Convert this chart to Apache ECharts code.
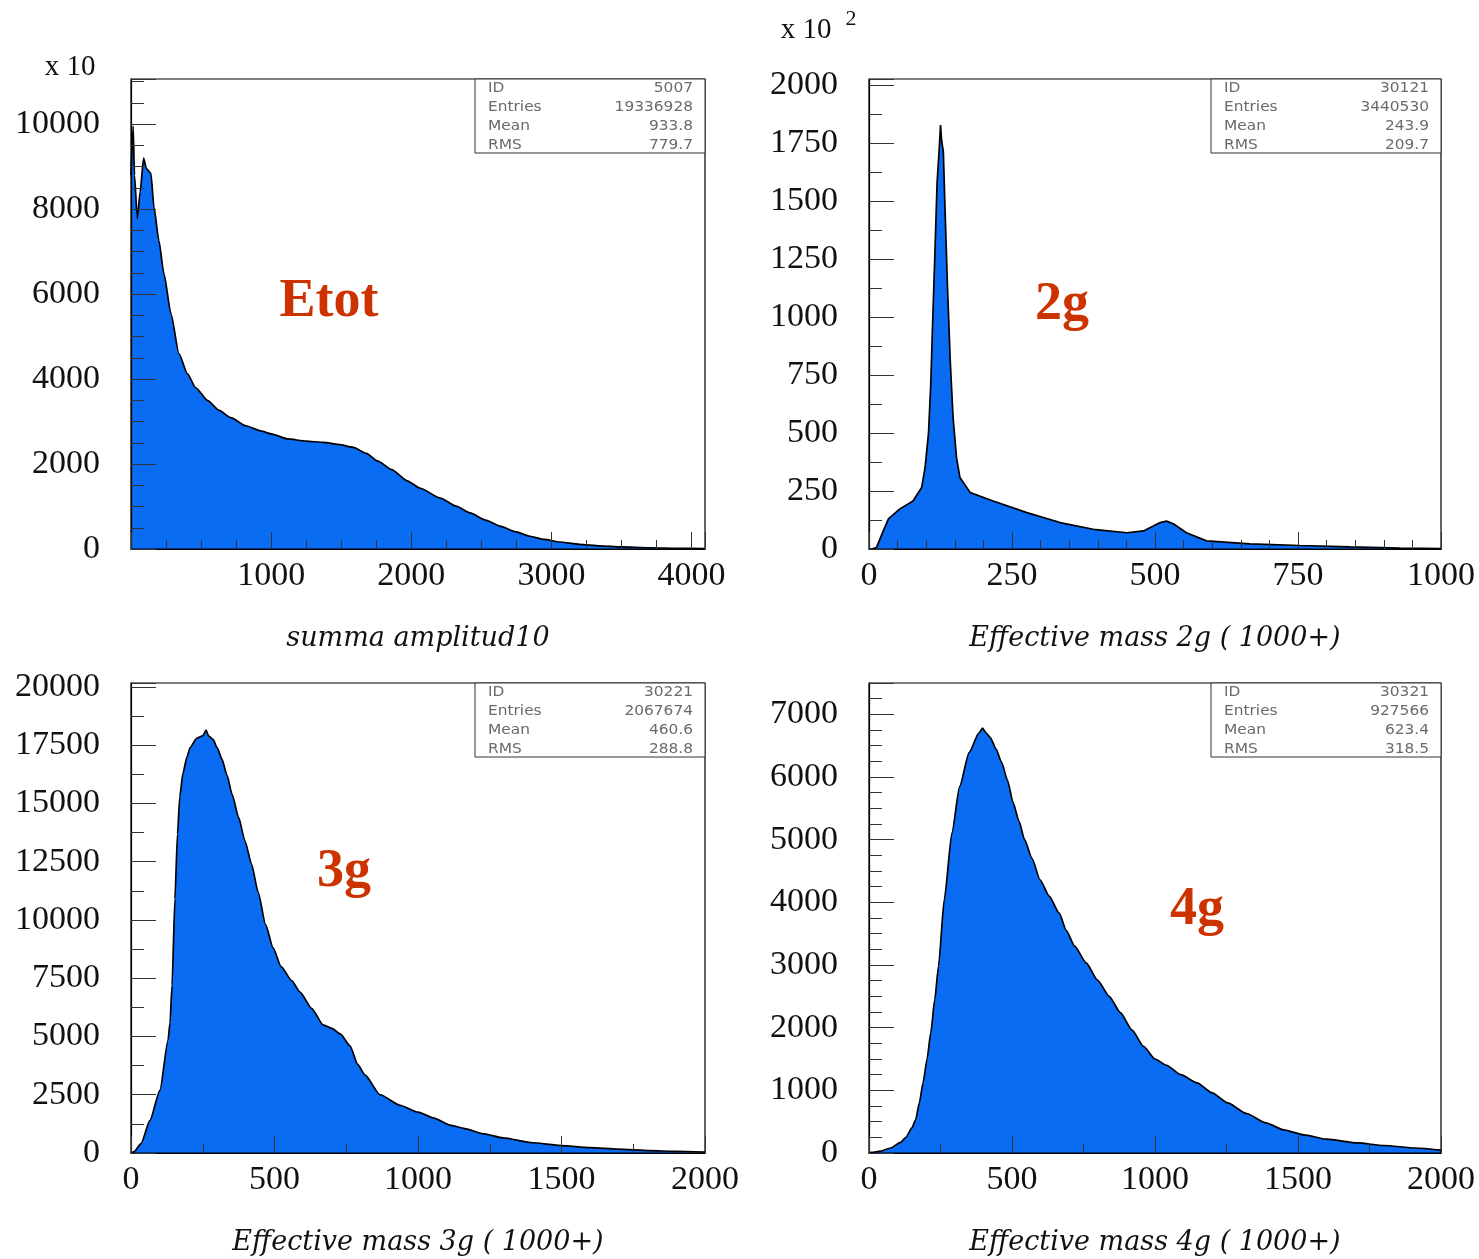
<!DOCTYPE html>
<html>
<head>
<meta charset="utf-8">
<script src="https://cdn.jsdelivr.net/npm/echarts@6/dist/echarts.min.js"></script>
<style>
html,body{margin:0;padding:0;background:#fff;}
#chart{width:1479px;height:1259px;}
</style>
</head>
<body>
<div id="chart"></div>
<script>
// ---------- DATA ----------
// Panel 1: Etot (summa amplitud10), y in units of x10
const etotX = [0, 15, 25, 45, 65, 90, 110, 142, 164, 199, 235, 285, 342, 403, 460, 548, 630, 712, 820, 925, 1000, 1117, 1250, 1374, 1480, 1587, 1680, 1758, 1860, 1971, 2064, 2206, 2320, 2420, 2530, 2633, 2740, 2847, 2950, 3060, 3200, 3345, 3500, 3700, 3900, 4090];
const etotY = [8800, 9950, 8800, 7780, 8400, 9200, 8950, 8840, 8040, 7260, 6480, 5540, 4600, 4120, 3800, 3490, 3260, 3090, 2900, 2780, 2710, 2590, 2540, 2507, 2460, 2390, 2250, 2075, 1870, 1604, 1430, 1200, 1010, 850, 680, 540, 410, 300, 225, 165, 110, 75, 50, 30, 18, 12];

// Panel 2: Effective mass 2g, y in units of x10^2
const m2gX = [0, 5, 13, 25, 34, 54, 77, 92, 98, 104, 108, 111, 115, 119, 123, 125, 127, 130, 133, 137, 142, 147, 153, 159, 177, 217, 276, 334, 392, 451, 480, 509, 520, 532, 555, 590, 666, 753, 841, 928, 1000];
const m2gY = [0, 0, 6, 78, 130, 173, 207, 265, 351, 497, 712, 956, 1258, 1576, 1734, 1827, 1760, 1712, 1460, 1145, 812, 567, 394, 308, 243, 207, 157, 114, 85, 70, 78, 114, 120, 109, 70, 35, 22, 15, 9, 4, 2];

// Panel 3: Effective mass 3g
const m3gX = [0, 10, 35, 66, 101, 129, 136, 143, 153, 162, 170, 181, 195, 206, 229, 250, 262, 270, 286, 300, 317, 335, 352, 375, 397, 420, 443, 469, 495, 523, 560, 589, 630, 669, 700, 730, 763, 790, 815, 868, 937, 1000, 1056, 1111, 1163, 1230, 1296, 1400, 1497, 1600, 1697, 1808, 1900, 2000];
const m3gY = [0, 50, 400, 1400, 2700, 4850, 5600, 7200, 10900, 13700, 15300, 16300, 17000, 17400, 17800, 17900, 18150, 17900, 17750, 17400, 16900, 16200, 15400, 14400, 13400, 12400, 11200, 9800, 8800, 8000, 7400, 6900, 6200, 5500, 5350, 5100, 4600, 3800, 3350, 2500, 2050, 1750, 1500, 1200, 1050, 820, 650, 440, 320, 230, 170, 100, 70, 40];

// Panel 4: Effective mass 4g
const m4gX = [0, 9, 40, 76, 110, 129, 150, 163, 176, 189, 203, 216, 230, 243, 263, 290, 317, 350, 384, 397, 410, 424, 444, 464, 484, 504, 524, 544, 570, 598, 630, 665, 690, 719, 760, 799, 840, 879, 920, 960, 1000, 1040, 1090, 1147, 1200, 1254, 1320, 1388, 1450, 1521, 1600, 1710, 1800, 1911, 2000];
const m4gY = [0, 10, 30, 80, 170, 250, 400, 530, 800, 1120, 1500, 1920, 2450, 2980, 4040, 5110, 5850, 6390, 6700, 6780, 6700, 6630, 6450, 6230, 5950, 5590, 5300, 5000, 4700, 4360, 4100, 3830, 3550, 3300, 3030, 2760, 2500, 2240, 1960, 1700, 1500, 1400, 1250, 1120, 960, 800, 630, 480, 370, 290, 220, 160, 120, 80, 45];

// Axis titles, panel tags and statistics boxes
const axisTitles = ['summa amplitud10', 'Effective mass 2g ( 1000+)', 'Effective mass 3g ( 1000+)', 'Effective mass 4g ( 1000+)'];
const panelTags = ['Etot', '2g', '3g', '4g'];
const statNames = ['ID', 'Entries', 'Mean', 'RMS'];
const statValues = [
  ['5007', '19336928', '933.8', '779.7'],
  ['30121', '3440530', '243.9', '209.7'],
  ['30221', '2067674', '460.6', '288.8'],
  ['30321', '927566', '623.4', '318.5']
];

// ---------- LAYOUT / STYLE ----------
const FILL = '#0a6cf2';
const TAG = '#cc3300';
const grids = [
  {left: 131, top: 79, width: 574, height: 470},
  {left: 869, top: 79, width: 572, height: 470},
  {left: 131, top: 683, width: 574, height: 470},
  {left: 869, top: 683, width: 572, height: 470}
];
const axesCfg = [
  {xMin: 0, xMax: 4096, xInt: 1000, xMinor: 250, yMax: 11060, yInt: 2000, yMinor: 500, hideX0: true, smooth: 0.2},
  {xMin: 0, xMax: 1000, xInt: 250, xMinor: 50, yMax: 2026, yInt: 250, yMinor: 125, hideX0: false, smooth: false},
  {xMin: 0, xMax: 2000, xInt: 500, xMinor: 250, yMax: 20170, yInt: 2500, yMinor: 1250, hideX0: false, smooth: 0.2},
  {xMin: 0, xMax: 2000, xInt: 500, xMinor: 250, yMax: 7500, yInt: 1000, yMinor: 250, hideX0: false, smooth: 0.2}
];
const seriesData = [[etotX, etotY], [m2gX, m2gY], [m3gX, m3gY], [m4gX, m4gY]];
const tagPos = [[329, 302], [1062, 305], [344, 872], [1197, 910]];

const LABEL_FONT = {fontFamily: '"Liberation Serif", "Times New Roman", serif', fontSize: 34, color: '#111'};
const TICK_STYLE = {color: '#333', width: 1};

const xAxes = [], yAxes = [], series = [], graphics = [];
axesCfg.forEach((c, i) => {
  const fmtX = v => (Math.abs(v % c.xInt) > 1e-6 || (c.hideX0 && v === 0)) ? '' : String(v);
  const fmtY = v => (Math.abs(v % c.yInt) > 1e-6) ? '' : String(v);
  xAxes.push({
    gridIndex: i, type: 'value', position: 'bottom', min: c.xMin, max: c.xMax, interval: c.xInt, z: 10,
    axisLine: {show: true, onZero: false, lineStyle: {color: '#000', width: 1.2}},
    axisTick: {show: true, inside: true, length: 17, lineStyle: TICK_STYLE},
    axisLabel: Object.assign({formatter: fmtX, margin: 10, showMinLabel: true, showMaxLabel: true}, LABEL_FONT),
    splitLine: {show: false}
  });
  xAxes.push({
    gridIndex: i, type: 'value', position: 'bottom', min: c.xMin, max: c.xMax, interval: c.xMinor, z: 10,
    axisLine: {show: false, onZero: false},
    axisTick: {show: true, inside: true, length: 9, lineStyle: TICK_STYLE},
    axisLabel: {show: false}, splitLine: {show: false}
  });
  yAxes.push({
    gridIndex: i, type: 'value', position: 'left', min: 0, max: c.yMax, interval: c.yInt, z: 10,
    axisLine: {show: true, onZero: false, lineStyle: {color: '#000', width: 1.2}},
    axisTick: {show: true, inside: true, length: 25, lineStyle: TICK_STYLE},
    axisLabel: Object.assign({formatter: fmtY, margin: 31, showMinLabel: true, showMaxLabel: true}, LABEL_FONT),
    splitLine: {show: false}
  });
  yAxes.push({
    gridIndex: i, type: 'value', position: 'left', min: 0, max: c.yMax, interval: c.yMinor, z: 10,
    axisLine: {show: false, onZero: false},
    axisTick: {show: true, inside: true, length: 13, lineStyle: TICK_STYLE},
    axisLabel: {show: false}, splitLine: {show: false}
  });
  const [xs, ys] = seriesData[i];
  series.push({
    type: 'line', xAxisIndex: 2 * i, yAxisIndex: 2 * i,
    data: xs.map((x, k) => [x, ys[k]]),
    showSymbol: false, symbol: 'none', smooth: c.smooth, smoothMonotone: 'x',
    lineStyle: {color: '#000', width: 1.7},
    areaStyle: {color: FILL, opacity: 1},
    z: 1
  });

  const g = grids[i];
  graphics.push({
    type: 'text', x: g.left + g.width / 2, y: g.top + g.height + 90, z: 20,
    style: {text: axisTitles[i], fill: '#111', align: 'center', verticalAlign: 'middle',
      font: 'italic 27px "DejaVu Serif", serif'}
  });
  graphics.push({
    type: 'text', x: tagPos[i][0], y: tagPos[i][1], z: 20,
    style: {text: panelTags[i], fill: TAG, align: 'center', verticalAlign: 'middle',
      font: 'bold 54px "Liberation Serif", "Times New Roman", serif'}
  });
  const bx = g.left + g.width - 230, by = g.top;
  graphics.push({
    type: 'rect', z: 20, shape: {x: bx, y: by, width: 230, height: 74},
    style: {fill: '#fff', stroke: '#333', lineWidth: 1}
  });
  statNames.forEach((n, r) => {
    graphics.push({
      type: 'text', x: bx + 13, y: by + 9 + 19 * r, z: 21, scaleX: 1.1,
      style: {text: n, fill: '#6a6a6a', align: 'left', verticalAlign: 'middle', font: '14px "DejaVu Sans", sans-serif'}
    });
    graphics.push({
      type: 'text', x: bx + 218, y: by + 9 + 19 * r, z: 21, scaleX: 1.1,
      style: {text: statValues[i][r], fill: '#6a6a6a', align: 'right', verticalAlign: 'middle', font: '14px "DejaVu Sans", sans-serif'}
    });
  });
});

graphics.push({
  type: 'text', x: 70, y: 67, z: 20,
  style: {text: 'x 10', fill: '#111', align: 'center', verticalAlign: 'middle', font: '29px "Liberation Serif", serif'}
});
graphics.push({
  type: 'text', x: 806, y: 30, z: 20,
  style: {text: 'x 10', fill: '#111', align: 'center', verticalAlign: 'middle', font: '29px "Liberation Serif", serif'}
});
graphics.push({
  type: 'text', x: 851, y: 19, z: 20,
  style: {text: '2', fill: '#111', align: 'center', verticalAlign: 'middle', font: '22px "Liberation Serif", serif'}
});

const chart = echarts.init(document.getElementById('chart'), null, {renderer: 'canvas'});
chart.setOption({
  backgroundColor: '#fff',
  animation: false,
  grid: grids.map(g => Object.assign({show: true, z: 10, borderColor: '#000', borderWidth: 1.2, backgroundColor: 'transparent', containLabel: false}, g)),
  xAxis: xAxes,
  yAxis: yAxes,
  series: series,
  graphic: graphics
});
</script>
</body>
</html>
